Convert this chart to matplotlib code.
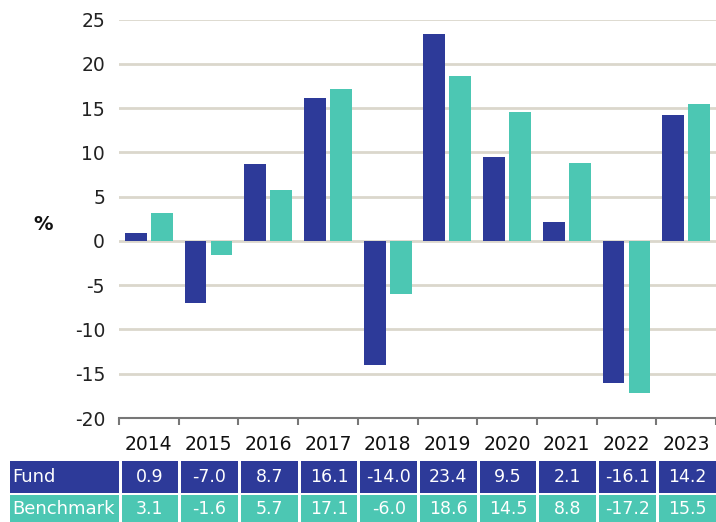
import numpy as np
import matplotlib
matplotlib.use("Agg")
import matplotlib.pyplot as plt
from matplotlib.patches import Rectangle

years = ["2014", "2015", "2016", "2017", "2018", "2019", "2020", "2021", "2022", "2023"]
fund = [0.9, -7.0, 8.7, 16.1, -14.0, 23.4, 9.5, 2.1, -16.1, 14.2]
benchmark = [3.1, -1.6, 5.7, 17.1, -6.0, 18.6, 14.5, 8.8, -17.2, 15.5]
series_names = ["Fund", "Benchmark"]
y_ticks = [-20, -15, -10, -5, 0, 5, 10, 15, 20, 25]

FUND_COL = "#2d3a99"
BENCH_COL = "#4cc7b3"
GRID_COL = "#dbd7cc"

plt.rcParams["font.family"] = ["DejaVu Sans"]

W, H = 716, 522
fig = plt.figure(figsize=(W / 100, H / 100), dpi=100)

# plot area in pixels
x0, x1 = 119, 716
y_top, y_bot = 19.5, 418


def px_box(left, top, right, bottom):
    return [left / W, 1 - bottom / H, (right - left) / W, (bottom - top) / H]


ax = fig.add_axes(px_box(x0, y_top, x1, y_bot))
n = len(years)
idx = np.arange(n)
bw = 0.365
ax.bar(idx - 0.218, fund, width=bw, color=FUND_COL, zorder=3)
ax.bar(idx + 0.218, benchmark, width=bw, color=BENCH_COL, zorder=3)

ax.set_xlim(-0.5, n - 0.5)
ax.set_ylim(-20, 25)
ax.set_yticks(y_ticks)
ax.set_yticklabels([str(t) for t in y_ticks], fontsize=13.5, color="#222222")
for t in y_ticks:
    if t > -20:
        ax.axhline(t, color=GRID_COL, lw=2, zorder=1)

for s in ["top", "right", "left"]:
    ax.spines[s].set_visible(False)
ax.spines["bottom"].set_color("#777777")
ax.spines["bottom"].set_linewidth(1.5)
ax.tick_params(axis="y", length=0, pad=10)

ax.set_xticks(idx)
ax.set_xticklabels(years, fontsize=13.5, color="#111111")
ax.set_xticks(np.arange(n + 1) - 0.5, minor=True)
ax.tick_params(axis="x", which="major", length=0, pad=12)
ax.tick_params(axis="x", which="minor", length=5, width=1.5, color="#777777")

fig.text(43 / W, 1 - 224 / H, "%", fontsize=14, fontweight="bold",
         ha="center", va="center", color="#111111")

# data table under the chart, drawn in pixel coordinates
tab = fig.add_axes([0, 0, 1, 1])
tab.set_xlim(0, W)
tab.set_ylim(H, 0)
tab.axis("off")

rows = [(fund, FUND_COL, 460.5, 492.5), (benchmark, BENCH_COL, 495, 522)]
cw = (x1 - x0) / n
for (vals, col, top, bot), name in zip(rows, series_names):
    tab.add_patch(Rectangle((10, top), x0 - 10, bot - top, color=col, lw=0))
    tab.text(12, (top + bot) / 2 + 1, name, fontsize=13, color="white",
             ha="left", va="center")
    for i, v in enumerate(vals):
        left = x0 + i * cw + 2.5
        right = x0 + (i + 1) * cw - 0.5
        tab.add_patch(Rectangle((left, top), right - left, bot - top, color=col, lw=0))
        tab.text((left + right) / 2, (top + bot) / 2 + 1, f"{v:.1f}", fontsize=12.5,
                 color="white", ha="center", va="center")

fig.savefig("out.png", dpi=100)
